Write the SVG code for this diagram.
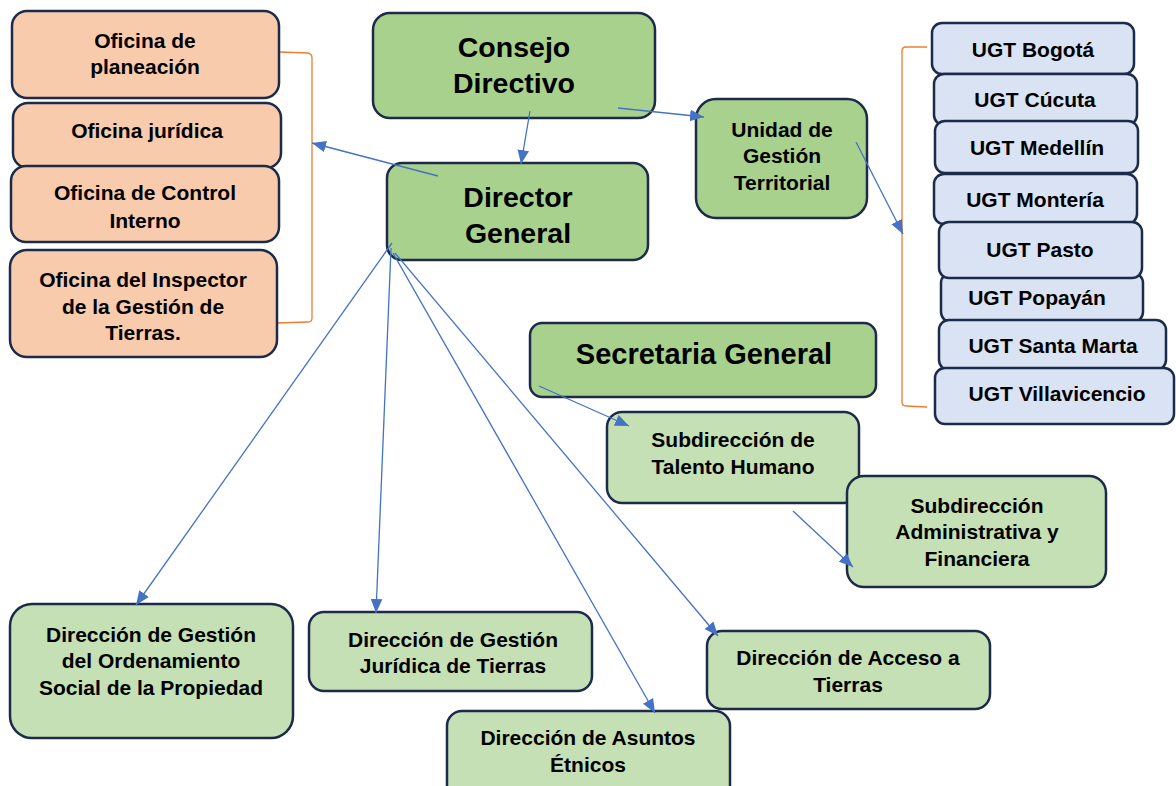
<svg xmlns="http://www.w3.org/2000/svg" width="1176" height="786" viewBox="0 0 1176 786">
<defs>
<style>
.box{stroke:#1C2B4A;stroke-width:2.5}
.or{fill:#F8CBAD}
.dg{fill:#A9D18E}
.lg{fill:#C5E0B4}
.bl{fill:#DAE3F3}
text{font-family:"Liberation Sans",Arial,sans-serif;font-weight:bold;fill:#000;text-anchor:middle}
.t21{font-size:21px}
.t28{font-size:28.5px}
.t29{font-size:29px}
.con{stroke:#4472C4;stroke-width:1.3;fill:none}
.brk{stroke:#ED7D31;stroke-width:1.3;fill:none}
</style>
<marker id="ah" viewBox="0 0 12 10" refX="12" refY="5" markerWidth="14" markerHeight="12" orient="auto" markerUnits="userSpaceOnUse">
<path d="M0,0 L12,5 L0,10 z" fill="#4472C4"/>
</marker>
</defs>
<rect width="1176" height="786" fill="#fff"/>

<g id="brackets">
<path class="brk" d="M279,52 L308,53 Q312,54 312,58 L312,318 Q312,322 308,322 L277,323"/>
<path class="brk" d="M927,47 L906,47 Q902,47 902,51 L902,402 Q902,406 906,406 L927,407"/>
</g>

<g id="n-planeacion"><rect class="box or" x="12" y="11" width="267" height="87" rx="15"/>
<text class="t21" x="145" y="48">Oficina de</text><text class="t21" x="145" y="74">planeación</text></g>
<g id="n-juridica"><rect class="box or" x="13" y="103" width="268" height="65" rx="15"/>
<text class="t21" x="147" y="138">Oficina jurídica</text></g>
<g id="n-control"><rect class="box or" x="11" y="166" width="268" height="76" rx="15"/>
<text class="t21" x="145" y="200">Oficina de Control</text><text class="t21" x="145" y="228">Interno</text></g>
<g id="n-inspector"><rect class="box or" x="10" y="250" width="267" height="107" rx="17"/>
<text class="t21" x="143" y="287">Oficina del Inspector</text><text class="t21" x="143" y="314">de la Gestión de</text><text class="t21" x="143" y="340">Tierras.</text></g>

<g id="n-consejo"><rect class="box dg" x="373" y="13" width="282" height="105" rx="17"/>
<text class="t28" x="514" y="57">Consejo</text><text class="t28" x="514" y="93">Directivo</text></g>
<g id="n-director"><rect class="box dg" x="387" y="163" width="261" height="97" rx="15"/>
<text class="t28" x="518" y="207">Director</text><text class="t28" x="518" y="243">General</text></g>
<g id="n-ugt"><rect class="box dg" x="696" y="99" width="171" height="119" rx="20"/>
<text class="t21" x="782" y="137">Unidad de</text><text class="t21" x="782" y="163">Gestión</text><text class="t21" x="782" y="190">Territorial</text></g>

<g id="n-bogota"><rect class="box bl" x="932" y="23" width="202" height="51" rx="10"/><text class="t21" x="1033" y="57">UGT Bogotá</text></g>
<g id="n-cucuta"><rect class="box bl" x="934" y="74" width="203" height="51" rx="10"/><text class="t21" x="1035" y="107">UGT Cúcuta</text></g>
<g id="n-medellin"><rect class="box bl" x="935" y="121" width="203" height="52" rx="10"/><text class="t21" x="1037" y="155">UGT Medellín</text></g>
<g id="n-monteria"><rect class="box bl" x="934" y="174" width="203" height="50" rx="10"/><text class="t21" x="1035" y="207">UGT Montería</text></g>
<g id="n-popayan"><rect class="box bl" x="941" y="273" width="202" height="49" rx="10"/><text class="t21" x="1037" y="305">UGT Popayán</text></g>
<g id="n-pasto"><rect class="box bl" x="939" y="222" width="203" height="56" rx="10"/><text class="t21" x="1040" y="257">UGT Pasto</text></g>
<g id="n-santamarta"><rect class="box bl" x="939" y="320" width="227" height="50" rx="10"/><text class="t21" x="1053" y="353">UGT Santa Marta</text></g>
<g id="n-villavicencio"><rect class="box bl" x="935" y="368" width="239" height="56" rx="10"/><text class="t21" x="1057" y="401">UGT Villavicencio</text></g>

<g id="n-secretaria"><rect class="box dg" x="530" y="323" width="346" height="74" rx="12"/>
<text class="t29" x="704" y="364">Secretaria General</text></g>
<g id="n-talento"><rect class="box lg" x="607" y="412" width="252" height="91" rx="15"/>
<text class="t21" x="733" y="447">Subdirección de</text><text class="t21" x="733" y="474">Talento Humano</text></g>
<g id="n-admin"><rect class="box lg" x="847" y="476" width="259" height="111" rx="17"/>
<text class="t21" x="977" y="513">Subdirección</text><text class="t21" x="977" y="539">Administrativa y</text><text class="t21" x="977" y="566">Financiera</text></g>

<g id="n-ordenamiento"><rect class="box lg" x="10" y="604" width="283" height="134" rx="22"/>
<text class="t21" x="151" y="642">Dirección de Gestión</text><text class="t21" x="151" y="668">del Ordenamiento</text><text class="t21" x="151" y="695">Social de la Propiedad</text></g>
<g id="n-juridicatierras"><rect class="box lg" x="309" y="612" width="283" height="79" rx="15"/>
<text class="t21" x="453" y="647">Dirección de Gestión</text><text class="t21" x="453" y="673">Jurídica de Tierras</text></g>
<g id="n-acceso"><rect class="box lg" x="707" y="631" width="283" height="78" rx="15"/>
<text class="t21" x="848" y="665">Dirección de Acceso a</text><text class="t21" x="848" y="692">Tierras</text></g>
<g id="n-etnicos"><rect class="box lg" x="447" y="711" width="283" height="95" rx="15"/>
<text class="t21" x="588" y="745">Dirección de Asuntos</text><text class="t21" x="588" y="772">Étnicos</text></g>

<g id="connectors">
<line class="con" x1="530" y1="111" x2="521" y2="164" marker-end="url(#ah)"/>
<line class="con" x1="618" y1="108" x2="704" y2="117" marker-end="url(#ah)"/>
<line class="con" x1="438" y1="176" x2="312" y2="143" marker-end="url(#ah)"/>
<line class="con" x1="856" y1="142" x2="903" y2="234" marker-end="url(#ah)"/>
<line class="con" x1="539" y1="386" x2="629" y2="426" marker-end="url(#ah)"/>
<line class="con" x1="793" y1="511" x2="853" y2="567" marker-end="url(#ah)"/>
<line class="con" x1="392" y1="243" x2="136" y2="605" marker-end="url(#ah)"/>
<line class="con" x1="391" y1="248" x2="376" y2="613" marker-end="url(#ah)"/>
<line class="con" x1="393" y1="253" x2="655" y2="713" marker-end="url(#ah)"/>
<line class="con" x1="395" y1="253" x2="718" y2="636" marker-end="url(#ah)"/>
</g>
</svg>
